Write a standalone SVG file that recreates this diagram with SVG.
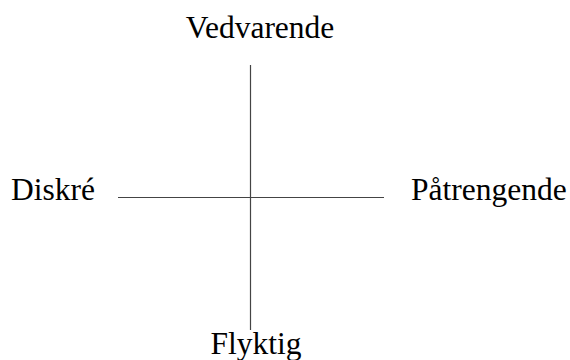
<svg xmlns="http://www.w3.org/2000/svg" width="570" height="360" viewBox="0 0 570 360">
<style>
text{font-family:"Liberation Serif","Times New Roman",serif;font-size:31.5px;fill:#000}
.ax{stroke:#444;stroke-width:1.2;fill:none}
</style>
<rect width="570" height="360" fill="#fff"/>
<g id="connectors">
<line class="ax" x1="250.5" y1="65" x2="250.5" y2="330"/>
<line class="ax" x1="118" y1="197.5" x2="384" y2="197.5"/>
</g>
<g id="top"><text x="260" y="38" text-anchor="middle">Vedvarende</text></g>
<g id="left"><text x="95" y="200" text-anchor="end">Diskré</text></g>
<g id="right"><text x="411" y="200">Påtrengende</text></g>
<g id="bottom"><text x="256" y="354" text-anchor="middle">Flyktig</text></g>
</svg>
